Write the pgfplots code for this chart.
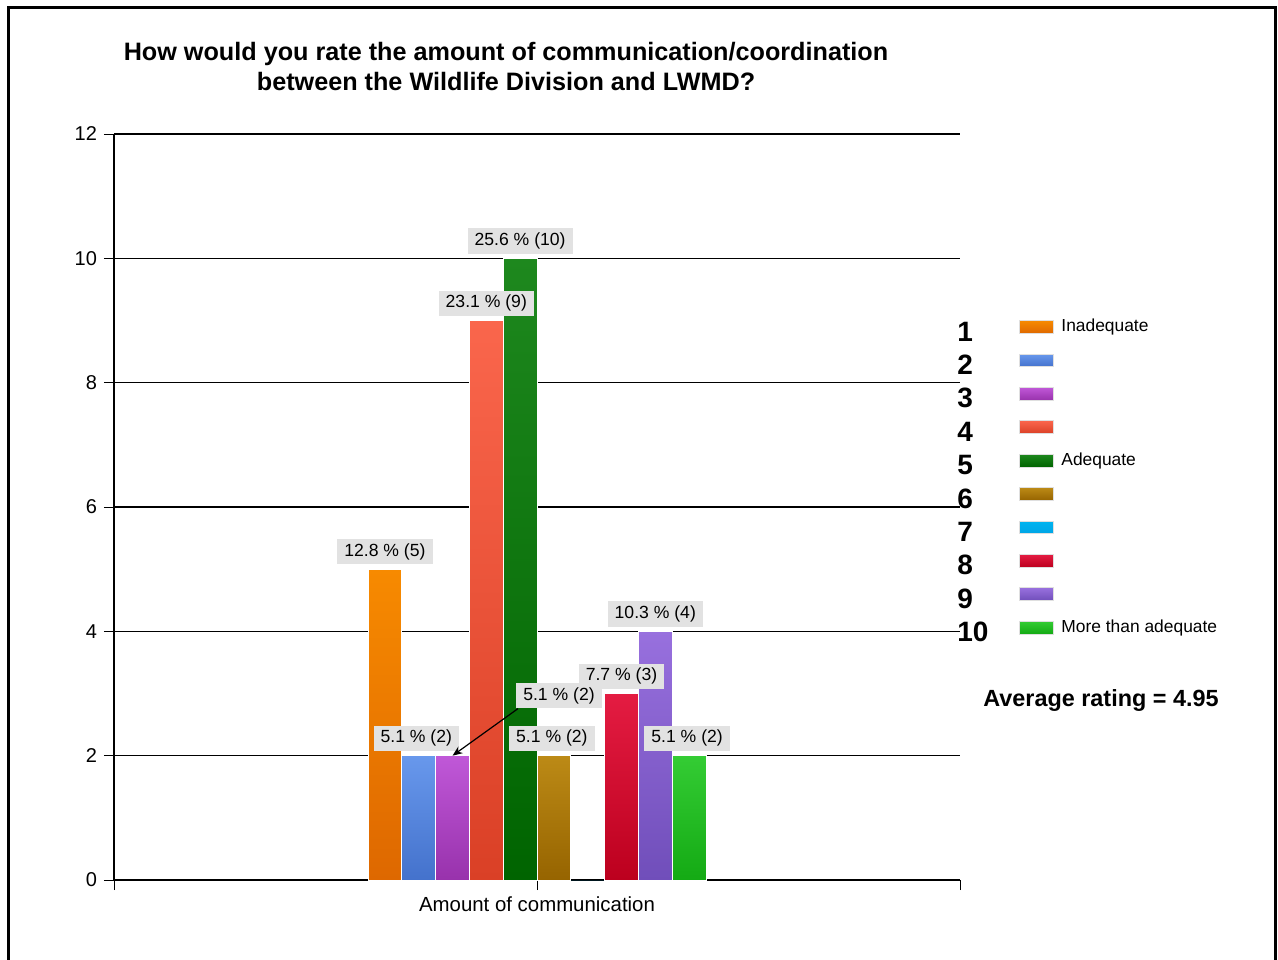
\documentclass[border=0pt]{standalone}
\usepackage{pgfplots}
\pgfplotsset{compat=1.18}
\usepackage{fontspec}
\setmainfont{Liberation Sans}
\usetikzlibrary{arrows.meta}
\definecolor{c1t}{RGB}{247,138,0}\definecolor{c1b}{RGB}{222,104,0}
\definecolor{c2t}{RGB}{104,152,236}\definecolor{c2b}{RGB}{68,114,204}
\definecolor{c3t}{RGB}{192,88,216}\definecolor{c3b}{RGB}{152,50,172}
\definecolor{c4t}{RGB}{250,102,76}\definecolor{c4b}{RGB}{218,64,38}
\definecolor{c5t}{RGB}{30,136,30}\definecolor{c5b}{RGB}{0,100,0}
\definecolor{c6t}{RGB}{188,138,22}\definecolor{c6b}{RGB}{150,100,0}
\definecolor{c7t}{RGB}{0,180,240}\definecolor{c7b}{RGB}{0,165,230}
\definecolor{c8t}{RGB}{228,28,66}\definecolor{c8b}{RGB}{188,0,30}
\definecolor{c9t}{RGB}{152,112,222}\definecolor{c9b}{RGB}{112,78,186}
\definecolor{c10t}{RGB}{52,204,52}\definecolor{c10b}{RGB}{20,170,20}
\definecolor{lgray}{RGB}{226,226,226}
\pgfplotsset{
  lbl/.style={every node near coord/.append style={fill=lgray, text=black,
     font=\fontsize{8.8}{10}\selectfont, inner xsep=3.5pt, inner ysep=2.2pt,
     anchor=south, yshift=2.2pt}},
  bb/.style={draw=white, line width=0.4pt}
}
\begin{document}
\begin{tikzpicture}
\useasboundingbox (0,0) rectangle (639pt,-479.5pt);
\draw[line width=1.5pt] (4pt,-481pt) -- (4pt,-3.5pt) -- (637.5pt,-3.5pt) -- (637.5pt,-481pt);
\node[align=center, font=\bfseries\fontsize{12.6}{15}\selectfont] at (253pt,-33.2pt)
  {How would you rate the amount of communication/coordination\\between the Wildlife Division and LWMD?};
\begin{axis}[
  at={(57pt,-440pt)}, anchor=south west,
  scale only axis, width=423pt, height=373pt,
  ybar=0pt, bar width=16.9pt,
  xmin=0, xmax=2, ymin=0, ymax=12,
  xtick={0,1,2}, xticklabels={,Amount of communication,},
  ytick={0,2,4,6,8,10,12},
  ymajorgrids, major grid style={black, line width=0.6pt},
  axis x line*=bottom, axis y line*=left,
  axis line style={black, line width=0.6pt, -},
  tick align=outside, major tick length=5pt,
  tick style={black, line width=0.5pt},
  yticklabel style={font=\fontsize{10}{12}\selectfont},
  xticklabel style={font=\fontsize{10.2}{12}\selectfont},
  /pgf/number format/assume math mode=true,
  clip=false,
]
\addplot[bb, top color=c1t, bottom color=c1b, lbl, nodes near coords={12.8 \% (5)}] coordinates {(1,5)};
\addplot[bb, top color=c2t, bottom color=c2b, lbl, nodes near coords={5.1 \% (2)}, every node near coord/.append style={xshift=-1.2pt}] coordinates {(1,2)};
\addplot[bb, top color=c3t, bottom color=c3b] coordinates {(1,2)};
\addplot[bb, top color=c4t, bottom color=c4b, lbl, nodes near coords={23.1 \% (9)}] coordinates {(1,9)};
\addplot[bb, top color=c5t, bottom color=c5b, lbl, nodes near coords={25.6 \% (10)}] coordinates {(1,10)};
\addplot[bb, top color=c6t, bottom color=c6b, lbl, nodes near coords={5.1 \% (2)}, every node near coord/.append style={xshift=-1pt}] coordinates {(1,2)};
\addplot[draw=none, fill=c7t] coordinates {(1,0)};
\addplot[bb, top color=c8t, bottom color=c8b, lbl, nodes near coords={7.7 \% (3)}] coordinates {(1,3)};
\addplot[bb, top color=c9t, bottom color=c9b, lbl, nodes near coords={10.3 \% (4)}] coordinates {(1,4)};
\addplot[bb, top color=c10t, bottom color=c10b, lbl, nodes near coords={5.1 \% (2)}, every node near coord/.append style={xshift=-1pt}] coordinates {(1,2)};
\coordinate (p3) at (axis cs:1,2);
\end{axis}
\node[fill=lgray, text=black, font=\fontsize{8.8}{10}\selectfont, inner xsep=3.5pt, inner ysep=2.2pt] (l3)
  at ([xshift=11pt, yshift=30pt]p3) {5.1 \% (2)};
\draw[-{Stealth[length=5pt,width=4pt]}, line width=0.6pt] ([xshift=1pt]l3.south west) -- ([xshift=-42.25pt]p3);
\foreach \i/\t/\b in {1/c1t/c1b,2/c2t/c2b,3/c3t/c3b,4/c4t/c4b,5/c5t/c5b,6/c6t/c6b,7/c7t/c7b,8/c8t/c8b,9/c9t/c9b,10/c10t/c10b}{
  \pgfmathsetmacro\yn{-(331.5+33.4*(\i-1))*0.5}
  \pgfmathsetmacro\ya{-(327+33.4*(\i-1))*0.5-3.2}
  \pgfmathsetmacro\yb{-(327+33.4*(\i-1))*0.5+3.2}
  \node[anchor=west, inner sep=0pt, font=\bfseries\fontsize{14}{16}\selectfont] at (478.5pt,\yn pt) {\i};
  \shade[top color=\t, bottom color=\b, draw=gray!25, line width=0.4pt] (509.5pt,\ya pt) rectangle (526.5pt,\yb pt);
}
\node[anchor=west, inner sep=0pt, font=\fontsize{8.7}{10}\selectfont] at (530.5pt,-163.5pt) {Inadequate};
\node[anchor=west, inner sep=0pt, font=\fontsize{8.7}{10}\selectfont] at (530.5pt,-230.3pt) {Adequate};
\node[anchor=west, inner sep=0pt, font=\fontsize{8.7}{10}\selectfont] at (530.5pt,-313.8pt) {More than adequate};
\node[anchor=west, inner sep=0pt, font=\bfseries\fontsize{11.7}{13}\selectfont] at (491.5pt,-350pt) {Average rating = 4.95};
\end{tikzpicture}
\end{document}
